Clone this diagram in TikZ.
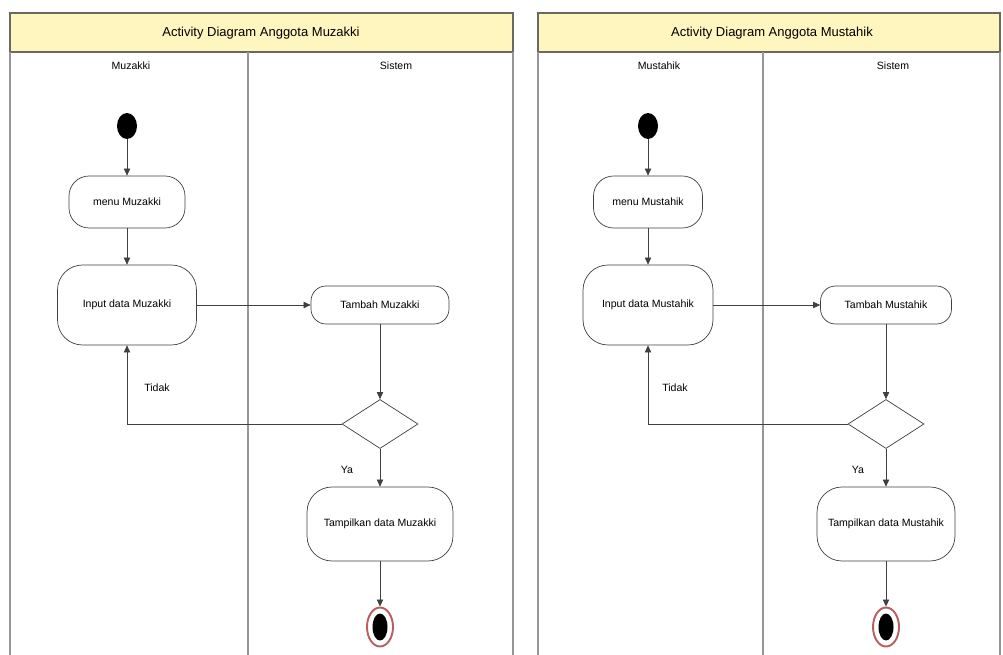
\documentclass[tikz,border=0pt]{standalone}
\usepackage{fontspec}
\setmainfont{Liberation Sans}
\usetikzlibrary{arrows.meta,shapes.geometric,positioning}
\definecolor{bandyellow}{RGB}{255,245,190}
\definecolor{framegray}{RGB}{105,105,95}
\definecolor{lanegray}{RGB}{150,150,150}
\definecolor{finalred}{RGB}{185,95,95}

\begin{document}
\begin{tikzpicture}[x=0.02cm,y=-0.02cm,
	font=\fontsize{6}{7}\selectfont,
	act/.style={draw=black!75,fill=white,rounded corners=0.4cm,align=center,inner sep=1pt},
	decide/.style={diamond,draw=black!75,fill=white,minimum width=1.52cm,minimum height=0.98cm,inner sep=0pt},
	startdot/.style={ellipse,fill=black,minimum width=0.4cm,minimum height=0.52cm,inner sep=0pt},
	enddot/.style={ellipse,draw=finalred,line width=1.1pt,fill=white,minimum width=0.52cm,minimum height=0.78cm,inner sep=0pt},
	flow/.style={draw=black!75,-{Triangle[length=4pt,width=3.6pt]}},
	lane/.style={draw=lanegray,line width=0.9pt},
	band/.style={draw=framegray,line width=0.9pt,fill=bandyellow}]
	\useasboundingbox (0,0) rectangle (1003,655);
	% frames
	\draw[band] (10,13) rectangle (513,52);
	\draw[lane] (10,52) -- (10,655) (513,52) -- (513,655) (248,52) -- (248,655);
	\draw[band] (538,13) rectangle (1000,52);
	\draw[lane] (538,52) -- (538,655) (1000,52) -- (1000,655) (763,52) -- (763,655);
	\node[font=\fontsize{7.4}{9}\selectfont] (titleA) at (261,33) {Activity Diagram Anggota Muzakki};
	\node[font=\fontsize{7.4}{9}\selectfont] (titleB) at (772,33) {Activity Diagram Anggota Mustahik};
	\node (laneA1) at (131,66) {Muzakki};
	\node (laneA2) at (396,66) {Sistem};
	\node (laneB1) at (659,66) {Mustahik};
	\node (laneB2) at (893,66) {Sistem};
	% muzakki
	\node[startdot] (startA) at (127,126) {};
	\node[act,minimum width=2.32cm,minimum height=1.04cm] (menuA) at (127,202) {menu Muzakki};
	\node[act,minimum width=2.78cm,minimum height=1.6cm,rounded corners=0.5cm] (inA) at (127,305) {Input data Muzakki};
	\node[act,minimum width=2.76cm,minimum height=0.76cm,rounded corners=0.3cm] (addA) at (380,305) {Tambah Muzakki};
	\node[decide] (decA) at (380,424) {};
	\node[act,minimum width=2.92cm,minimum height=1.48cm,rounded corners=0.5cm] (showA) at (380,524) {Tampilkan data Muzakki};
	\node[enddot] (endA) at (380,627) {};
	\node[startdot,minimum width=0.3cm,minimum height=0.54cm] (endAin) at (endA) {};
	\draw[flow] (startA) -- (menuA);
	\draw[flow] (menuA) -- (inA);
	\draw[flow] (inA) -- (addA);
	\draw[flow] (addA) -- (decA);
	\draw[flow] (decA) -- (showA);
	\draw[flow] (decA.west) -| (inA.south);
	\draw[flow] (showA) -- (endA);
	\node (noA) at (157,388) {Tidak};
	\node (yesA) at (347,470) {Ya};
	% mustahik
	\node[startdot] (startB) at (648,126) {};
	\node[act,minimum width=2.18cm,minimum height=1.04cm] (menuB) at (648,202) {menu Mustahik};
	\node[act,minimum width=2.6cm,minimum height=1.6cm,rounded corners=0.5cm] (inB) at (648,305) {Input data Mustahik};
	\node[act,minimum width=2.62cm,minimum height=0.76cm,rounded corners=0.3cm] (addB) at (886,305) {Tambah Mustahik};
	\node[decide] (decB) at (886,424) {};
	\node[act,minimum width=2.76cm,minimum height=1.48cm,rounded corners=0.5cm] (showB) at (886,524) {Tampilkan data Mustahik};
	\node[enddot] (endB) at (886,627) {};
	\node[startdot,minimum width=0.3cm,minimum height=0.54cm] (endBin) at (endB) {};
	\draw[flow] (startB) -- (menuB);
	\draw[flow] (menuB) -- (inB);
	\draw[flow] (inB) -- (addB);
	\draw[flow] (addB) -- (decB);
	\draw[flow] (decB) -- (showB);
	\draw[flow] (decB.west) -| (inB.south);
	\draw[flow] (showB) -- (endB);
	\node (noB) at (675,388) {Tidak};
	\node (yesB) at (858,470) {Ya};
\end{tikzpicture}
\end{document}
